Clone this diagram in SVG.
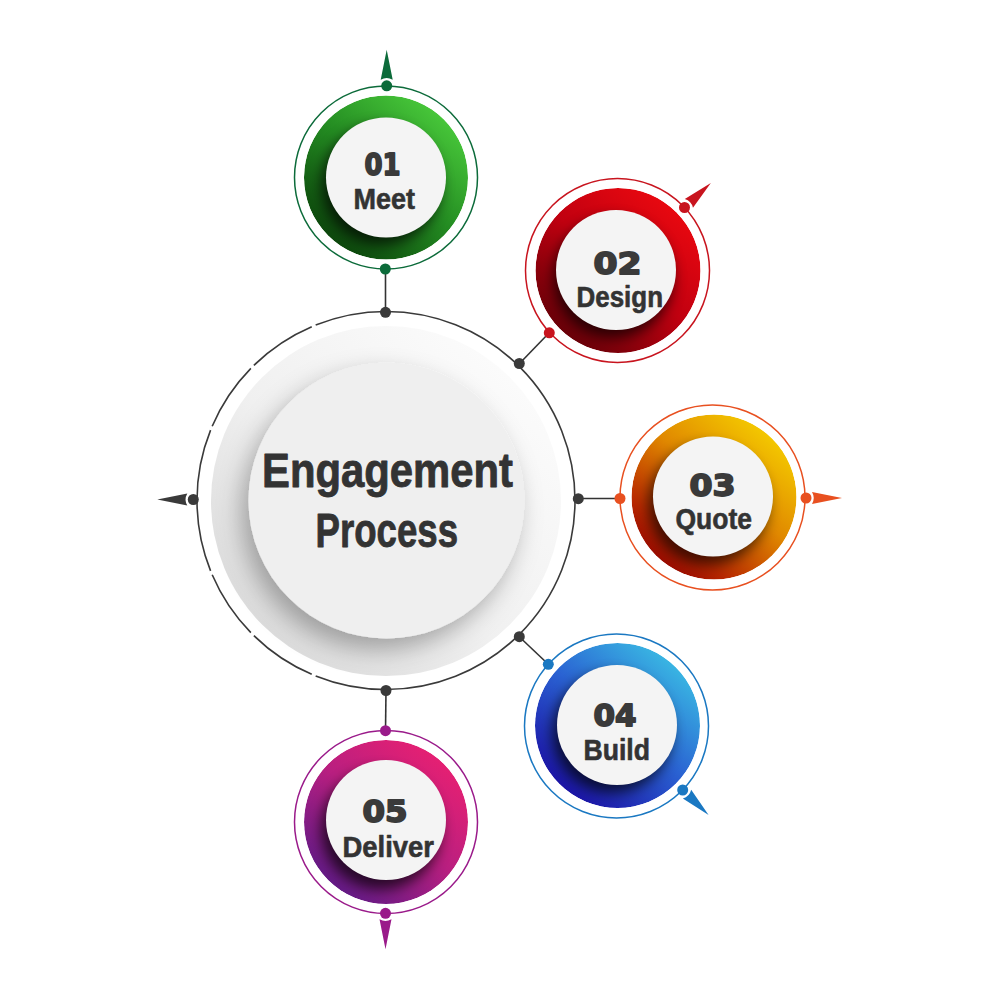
<svg xmlns="http://www.w3.org/2000/svg" width="1000" height="1000" viewBox="0 0 1000 1000">
<style>
.num{font-family:"DejaVu Sans","Liberation Sans",sans-serif;font-weight:bold;font-size:30px;fill:#3a3a3a;stroke:#3a3a3a;stroke-width:1.8;stroke-linejoin:round;text-anchor:start}
.lbl{font-family:"Liberation Sans",Arial,sans-serif;font-weight:bold;font-size:29px;fill:#333;stroke:#333;stroke-width:0.6;stroke-linejoin:round;text-anchor:start}
.title{font-family:"Liberation Sans",Arial,sans-serif;font-weight:bold;font-size:49px;fill:#333;stroke:#333;stroke-width:0.9;stroke-linejoin:round;text-anchor:start}
.conn{stroke:#333;stroke-width:1.6;fill:none}
.cdot{fill:#3a3a3a}
.white{fill:#f4f4f4}
</style>
<defs>
<clipPath id="discClip" clipPathUnits="objectBoundingBox"><circle cx="0.5" cy="0.5" r="0.5"/></clipPath>
<filter id="blur" x="-50%" y="-50%" width="200%" height="200%"><feGaussianBlur stdDeviation="7"/></filter>
<filter id="centerShadow" x="-30%" y="-30%" width="160%" height="160%"><feDropShadow dx="-7" dy="11" stdDeviation="12" flood-color="#000" flood-opacity="0.3"/></filter>
<path id="arrow" d="M36 0 L6 -6 Q9.5 0 6 6 Z"/>
<linearGradient id="gGray" x1="1" y1="0" x2="0" y2="1"><stop offset="0" stop-color="#ffffff"/><stop offset="0.55" stop-color="#f0f0f0"/><stop offset="1" stop-color="#d2d2d2"/></linearGradient>
<linearGradient id="g1" x1="0.9" y1="0.05" x2="0.15" y2="0.95"><stop offset="0" stop-color="#4ed23e"/><stop offset="0.5" stop-color="#248c22"/><stop offset="1" stop-color="#0a400a"/></linearGradient>
<linearGradient id="g2" x1="0.9" y1="0.05" x2="0.15" y2="0.95"><stop offset="0" stop-color="#f00a10"/><stop offset="0.5" stop-color="#c00010"/><stop offset="1" stop-color="#600008"/></linearGradient>
<linearGradient id="g3" x1="0.9" y1="0.05" x2="0.15" y2="0.95"><stop offset="0" stop-color="#f8d600"/><stop offset="0.45" stop-color="#e08800"/><stop offset="0.8" stop-color="#b82800"/><stop offset="1" stop-color="#900000"/></linearGradient>
<linearGradient id="g4" x1="0.9" y1="0.05" x2="0.15" y2="0.95"><stop offset="0" stop-color="#3cc6e6"/><stop offset="0.5" stop-color="#2a62d2"/><stop offset="1" stop-color="#1a0aa2"/></linearGradient>
<linearGradient id="g5" x1="0.9" y1="0.05" x2="0.15" y2="0.95"><stop offset="0" stop-color="#ee2070"/><stop offset="0.5" stop-color="#b81f80"/><stop offset="1" stop-color="#5a1a88"/></linearGradient>
</defs>
<rect width="1000" height="1000" fill="#ffffff"/>

<g id="connectors">
<line class="conn" x1="385.5" y1="269" x2="385.5" y2="312"/>
<line class="conn" x1="549" y1="333" x2="519.5" y2="363.5"/>
<line class="conn" x1="620" y1="498.5" x2="578.5" y2="498.5"/>
<line class="conn" x1="548" y1="664" x2="519.5" y2="637"/>
<line class="conn" x1="385.5" y1="731" x2="386" y2="690.5"/>
</g>

<g id="center">
<circle cx="386" cy="500.5" r="189" fill="none" stroke="#3a3a3a" stroke-width="1.6" pathLength="360" stroke-dasharray="111.85 1.3 21.2 1.3 21.2 1.3 43.7 1.3 21.2 1.3 21.2 1.3 111.85"/>
<circle cx="386" cy="501" r="175" fill="url(#gGray)"/>
<circle cx="386.5" cy="500.5" r="138" fill="#efefef" filter="url(#centerShadow)"/>
<text class="title" x="262" y="487" textLength="251" lengthAdjust="spacingAndGlyphs">Engagement</text>
<text class="title" x="315.5" y="547" textLength="142.5" lengthAdjust="spacingAndGlyphs">Process</text>
<circle class="cdot" cx="385.5" cy="312.3" r="5.5"/>
<circle class="cdot" cx="519.3" cy="363.5" r="5.5"/>
<circle class="cdot" cx="578.3" cy="498.7" r="5.5"/>
<circle class="cdot" cx="519.3" cy="636.7" r="5.5"/>
<circle class="cdot" cx="386" cy="690.5" r="5.5"/>
<circle class="cdot" cx="193.3" cy="499.5" r="5.5"/>
<use href="#arrow" fill="#3a3a3a" transform="translate(193.3 499.5) rotate(180)"/>
</g>

<g id="node1">
<circle cx="386" cy="177.5" r="91.5" fill="none" stroke="#0c6b3a" stroke-width="1.5"/>
<g clip-path="url(#discClip)">
<circle cx="386" cy="177.5" r="82" fill="url(#g1)"/>
<circle cx="381" cy="185" r="60" fill="#000" opacity="0.7" filter="url(#blur)"/>
</g>
<circle class="white" cx="386" cy="177.5" r="60"/>
<text class="num" x="364.5" y="175" textLength="36" lengthAdjust="spacingAndGlyphs">01</text>
<text class="lbl" x="353.5" y="208.5" textLength="61.5" lengthAdjust="spacingAndGlyphs">Meet</text>
<circle cx="386.7" cy="85.8" r="5.5" fill="#0c6b3a"/>
<circle cx="385.3" cy="269" r="5.5" fill="#0c6b3a"/>
<use href="#arrow" fill="#0c6b3a" transform="translate(386.7 85.8) rotate(-90)"/>
</g>

<g id="node2">
<circle cx="617.5" cy="270.5" r="92" fill="none" stroke="#c8141e" stroke-width="1.5"/>
<g clip-path="url(#discClip)">
<circle cx="618" cy="270.5" r="82.5" fill="url(#g2)"/>
<circle cx="613" cy="278" r="60" fill="#000" opacity="0.7" filter="url(#blur)"/>
</g>
<circle class="white" cx="616" cy="270" r="60"/>
<text class="num" x="593.5" y="273.5" textLength="48" lengthAdjust="spacingAndGlyphs">02</text>
<text class="lbl" x="576.5" y="306.5" textLength="86.5" lengthAdjust="spacingAndGlyphs">Design</text>
<circle cx="684.5" cy="207.5" r="5.5" fill="#c8141e"/>
<circle cx="549.3" cy="332.8" r="5.5" fill="#c8141e"/>
<use href="#arrow" fill="#c8141e" transform="translate(684.5 207.5) rotate(-43)"/>
</g>

<g id="node3">
<circle cx="712.5" cy="497.5" r="92.5" fill="none" stroke="#e85020" stroke-width="1.5"/>
<g clip-path="url(#discClip)">
<circle cx="714" cy="497" r="82.5" fill="url(#g3)"/>
<circle cx="708" cy="505" r="60" fill="#000" opacity="0.65" filter="url(#blur)"/>
</g>
<circle class="white" cx="713" cy="496.5" r="60"/>
<text class="num" x="689.5" y="495.5" textLength="46" lengthAdjust="spacingAndGlyphs">03</text>
<text class="lbl" x="675.5" y="528.5" textLength="76.5" lengthAdjust="spacingAndGlyphs">Quote</text>
<circle cx="620" cy="498.5" r="5.5" fill="#e85020"/>
<circle cx="806" cy="498" r="5.5" fill="#e85020"/>
<use href="#arrow" fill="#e85020" transform="translate(806 498) rotate(0)"/>
</g>

<g id="node4">
<circle cx="616.5" cy="726" r="92" fill="none" stroke="#1a78c2" stroke-width="1.5"/>
<g clip-path="url(#discClip)">
<circle cx="617.5" cy="725.5" r="82.5" fill="url(#g4)"/>
<circle cx="612" cy="733" r="60" fill="#000" opacity="0.7" filter="url(#blur)"/>
</g>
<circle class="white" cx="617" cy="725" r="60"/>
<text class="num" x="593.5" y="725.5" textLength="43" lengthAdjust="spacingAndGlyphs">04</text>
<text class="lbl" x="583.5" y="760" textLength="66.5" lengthAdjust="spacingAndGlyphs">Build</text>
<circle cx="548.3" cy="664.3" r="5.5" fill="#1a78c2"/>
<circle cx="682.7" cy="790" r="5.5" fill="#1a78c2"/>
<use href="#arrow" fill="#1a78c2" transform="translate(682.7 790) rotate(44)"/>
</g>

<g id="node5">
<circle cx="386" cy="822" r="91.5" fill="none" stroke="#9a1a8a" stroke-width="1.5"/>
<g clip-path="url(#discClip)">
<circle cx="386" cy="822" r="82" fill="url(#g5)"/>
<circle cx="381" cy="829.5" r="60" fill="#000" opacity="0.7" filter="url(#blur)"/>
</g>
<circle class="white" cx="386" cy="820" r="60"/>
<text class="num" x="362.5" y="822" textLength="45" lengthAdjust="spacingAndGlyphs">05</text>
<text class="lbl" x="342.5" y="857" textLength="91.5" lengthAdjust="spacingAndGlyphs">Deliver</text>
<circle cx="385.5" cy="730.7" r="5.5" fill="#9a1a8a"/>
<circle cx="385.5" cy="913.3" r="5.5" fill="#9a1a8a"/>
<use href="#arrow" fill="#9a1a8a" transform="translate(385.5 913.3) rotate(90)"/>
</g>
</svg>
